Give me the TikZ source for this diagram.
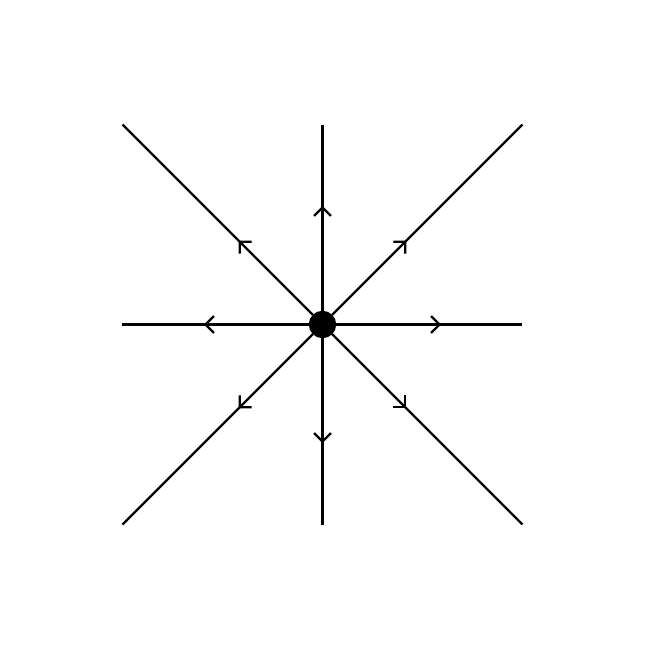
\documentclass[tikz,border=0pt]{standalone}
\usetikzlibrary{arrows.meta, decorations.markings}

\begin{document}
\begin{tikzpicture}[>={Straight Barb[angle=90:3.4pt]},
  fixedpt/.style={draw, fill=black, circle, minimum size=0.26cm, inner sep=0pt},
  ray/.style={line width=0.65pt, postaction={decorate},
    decoration={markings, mark=at position 1.05cm with {\arrow{>}}}}]

  \useasboundingbox (-3.225,-3.245) rectangle (3.235,3.245);

  % The unstable node at the origin
  \node[fixedpt] (O) at (0,0) {};

  % Far ends of the eight rays
  \foreach \a/\r in {0/2, 45/2.8284, 90/2, 135/2.8284, 180/2, 225/2.8284, 270/2, 315/2.8284}
    \coordinate (e\a) at (\a:\r);

  % Rays leaving the origin
  \foreach \a in {0,45,...,315}
    \draw[ray] (O) -- (e\a);

\end{tikzpicture}
\end{document}
